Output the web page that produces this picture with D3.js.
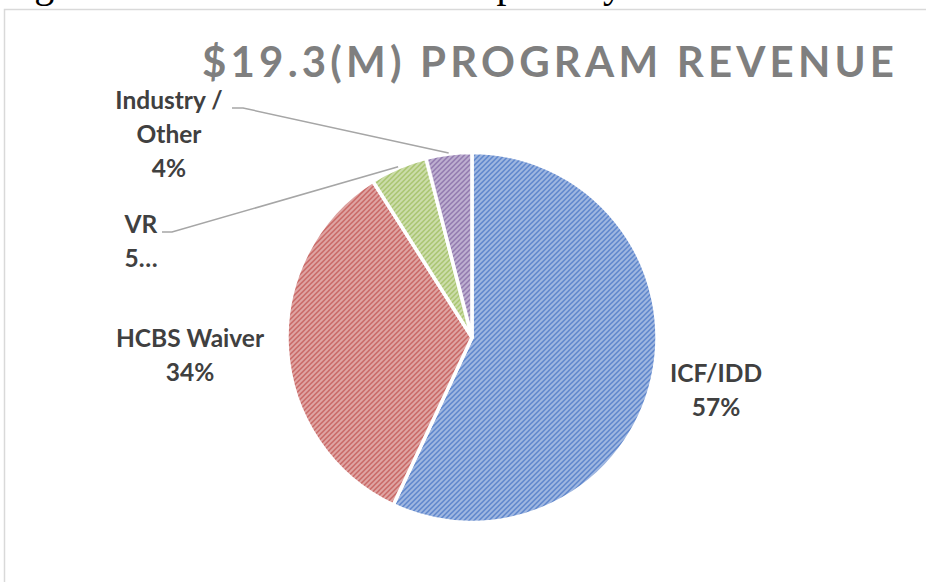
<!DOCTYPE html>
<html lang="en">
<head>
    <meta charset="UTF-8">
    <title>Program Revenue Pie</title>
    <script src="https://d3js.org/d3.v7.min.js"></script>
    <style>
        body { margin: 0; background: white; }
        svg text { font-family: Lato, "Open Sans", sans-serif; }
    </style>
</head>
<body>
    <svg id="chart"></svg>

    <script>
        // data
        const categories = ["ICF/IDD", "HCBS Waiver", "VR", "Industry / Other"];
        const shares = [57, 34, 5, 4];
        const labelLines = [["ICF/IDD", "57%"], ["HCBS Waiver", "34%"], ["VR", "5…"], ["Industry /", "Other", "4%"]];
        const titleText = "$19.3(M) PROGRAM REVENUE";
        const captionText = "g. Revenue comes from five primary sources";

        const lineColors = ["#4472c4", "#c0504d", "#9bbb59", "#8064a2"];
        const backColors = ["#dfe7f4", "#f4e0df", "#eef4e3", "#e9e4f0"];

        const width = 926;
        const height = 582;
        const cx = 472, cy = 337.5, radius = 185;

        const svg = d3.select("#chart")
            .attr("width", width)
            .attr("height", height);

        const defs = svg.append("defs");

        // caption of the document, cut off at the top
        svg.append("text")
            .attr("x", 753)
            .attr("y", -3)
            .attr("text-anchor", "end")
            .style("font-family", "'Liberation Serif', serif")
            .style("font-size", "40px")
            .attr("fill", "#000")
            .text(captionText);

        // chart frame (only left and top edges show)
        svg.append("rect")
            .attr("x", 4.5)
            .attr("y", 9.5)
            .attr("width", width + 20)
            .attr("height", height + 20)
            .attr("fill", "none")
            .attr("stroke", "#d9d9d9")
            .attr("stroke-width", 1.5);

        // title, stretched with letter spacing to the reference width
        const title = svg.append("text")
            .attr("x", 202)
            .attr("y", 77)
            .style("font-size", "42px")
            .style("font-weight", "bold")
            .attr("fill", "#7f7f7f")
            .text(titleText);
        const rawLen = title.node().getComputedTextLength();
        title.style("letter-spacing", ((692 - rawLen) / (titleText.length - 1)) + "px");

        // hatch patterns and edge shading
        categories.forEach((c, i) => {
            const p = defs.append("pattern")
                .attr("id", "hatch" + i)
                .attr("patternUnits", "userSpaceOnUse")
                .attr("width", 5)
                .attr("height", 5);
            p.append("rect").attr("width", 5).attr("height", 5).attr("fill", backColors[i]);
            p.append("path")
                .attr("d", "M0,5 L5,0 M-1,1 L1,-1 M4,6 L6,4")
                .attr("stroke", lineColors[i])
                .attr("stroke-width", 1.2);

            const g = defs.append("radialGradient")
                .attr("id", "edge" + i)
                .attr("gradientUnits", "userSpaceOnUse")
                .attr("cx", cx).attr("cy", cy).attr("r", radius);
            g.append("stop").attr("offset", "0.9").attr("stop-color", lineColors[i]).attr("stop-opacity", 0);
            g.append("stop").attr("offset", "1").attr("stop-color", lineColors[i]).attr("stop-opacity", 0.4);
        });

        const pie = d3.pie().sort(null).value(d => d)(shares);
        const arc = d3.arc().innerRadius(0).outerRadius(radius);

        const plot = svg.append("g").attr("transform", `translate(${cx},${cy})`);

        plot.selectAll("path.slice")
            .data(pie)
            .join("path")
            .attr("class", "slice")
            .attr("d", arc)
            .attr("fill", (d, i) => `url(#hatch${i})`);

        plot.selectAll("path.edge")
            .data(pie)
            .join("path")
            .attr("class", "edge")
            .attr("d", arc)
            .attr("fill", (d, i) => `url(#edge${i})`)
            .attr("stroke", "white")
            .attr("stroke-width", 3.5)
            .attr("stroke-linejoin", "round");

        // data labels: first baseline and centre, plus leader anchor where used
        const labelLayout = [
            { x: 716, y: 382 },
            { x: 190, y: 347 },
            { x: 141, y: 233, leader: [162, 172] },
            { x: 169, y: 109, leader: [232, 243] }
        ];
        const lineStep = 34;

        pie.forEach((d, i) => {
            const L = labelLayout[i];
            const t = svg.append("text")
                .attr("text-anchor", "middle")
                .style("font-size", "24.5px")
                .style("font-weight", "bold")
                .attr("fill", "#404040");
            labelLines[i].forEach((s, k) => {
                t.append("tspan").attr("x", L.x).attr("y", L.y + k * lineStep).text(s);
            });

            if (L.leader) {
                const mid = (d.startAngle + d.endAngle) / 2;
                const ex = cx + (radius + 1) * Math.sin(mid);
                const ey = cy - (radius + 1) * Math.cos(mid);
                const ly = L.y - 1;
                svg.append("path")
                    .attr("d", `M${L.leader[0]},${ly} L${L.leader[1]},${ly} L${ex},${ey}`)
                    .attr("fill", "none")
                    .attr("stroke", "#a6a6a6")
                    .attr("stroke-width", 1.5);
            }
        });
    </script>
</body>
</html>
